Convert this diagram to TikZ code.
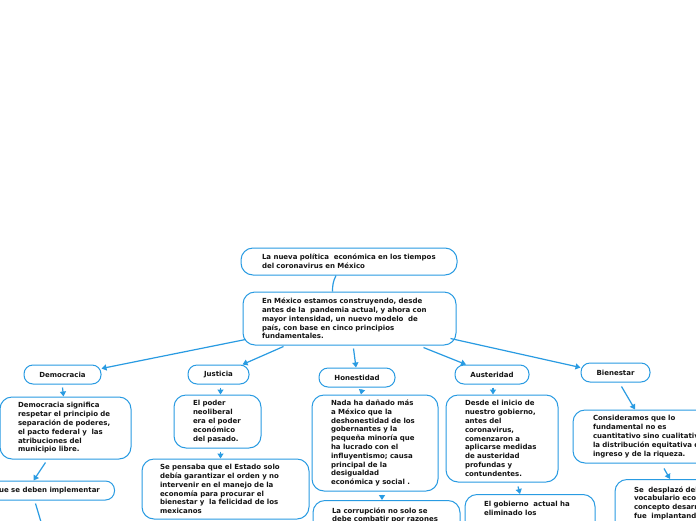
\documentclass[tikz,border=0pt]{standalone}
\usepackage{fontspec}
\setmainfont{DejaVu Sans}
\usetikzlibrary{calc,arrows.meta}
\definecolor{cline}{RGB}{41,155,226}
\definecolor{ctext}{RGB}{20,20,20}
\tikzset{
  box/.style={draw=cline, line width=1pt, fill=white, rounded corners=12pt,
    font=\fontsize{7}{8.8}\selectfont\bfseries, text=ctext, align=left, inner ysep=0pt},
  cbox/.style={box, anchor=north, inner ysep=7pt},
  lab/.style={draw=cline, line width=1pt, fill=white, rounded corners=9pt,
    font=\fontsize{7}{8.8}\selectfont\bfseries, text=ctext, inner sep=0pt, minimum height=19pt},
  conn/.style={draw=cline, line width=1.2pt, -{Triangle[width=6pt,length=5pt]}},
  plain/.style={draw=cline, line width=1.2pt},
}
\newcommand{\tl}[1]{\mbox{#1}}
\begin{document}
\begin{tikzpicture}[x=1pt,y=-1pt]
\useasboundingbox (0,0) rectangle (696,520);
\fill[white] (0,0) rectangle (696,520);
\clip (0,0) rectangle (696,520);

% top
\node[box, text width=174pt, inner xsep=21pt, minimum height=27pt] (title) at (349,261.5)
  {\tl{La nueva política\ \ económica en los tiempos}\\\tl{del coronavirus en México}};
\node[box, text width=175pt, inner xsep=19pt, minimum height=53pt] (root) at (349.5,318.5)
  {\tl{En México estamos construyendo, desde}\\\tl{antes de la\ \ pandemia actual, y ahora con}\\\tl{mayor intensidad, un nuevo modelo\ \ de}\\\tl{país, con base en cinco principios}\\\tl{fundamentales.}};

% labels
\node[lab, minimum width=77pt] (democ) at (62.5,374.5) {Democracia};
\node[lab, minimum width=61pt] (justicia) at (218.5,374.5) {Justicia};
\node[lab, minimum width=76pt] (honestidad) at (357,377.5) {Honestidad};
\node[lab, minimum width=74pt] (austeridad) at (492,374.5) {Austeridad};
\node[lab, minimum width=69pt] (bienestar) at (615.5,372.5) {Bienestar};

% Democracia branch
\node[box, text width=95pt, inner xsep=18pt, minimum height=62pt] (democtext) at (65.5,428)
  {\tl{Democracia significa}\\\tl{respetar el principio de}\\\tl{separación de poderes,}\\\tl{el pacto federal y\ \ las}\\\tl{atribuciones del}\\\tl{municipio libre.}};
\node[lab, minimum width=135pt] (implement) at (47,490.5) {\tl{que se deben implementar}};
\coordinate (impdown) at (44,532);

% Justicia branch
\node[box, text width=49pt, inner xsep=19pt, minimum height=53pt] (neoliberal) at (217.5,421.5)
  {\tl{El poder}\\\tl{neoliberal}\\\tl{era el poder}\\\tl{económico}\\\tl{del pasado.}};
\node[box, text width=131pt, inner xsep=18pt, minimum height=60pt] (pensaba) at (225.5,489)
  {\tl{Se pensaba que el Estado solo}\\\tl{debía garantizar el orden y no}\\\tl{intervenir en el manejo de la}\\\tl{economía para procurar el}\\\tl{bienestar y\ \ la felicidad de los}\\\tl{mexicanos}};

% Honestidad branch
\node[box, text width=88pt, inner xsep=19pt, minimum height=96pt] (nada) at (375,443)
  {\tl{Nada ha dañado más}\\\tl{a México que la}\\\tl{deshonestidad de los}\\\tl{gobernantes y la}\\\tl{pequeña minoría que}\\\tl{ha lucrado con el}\\\tl{influyentismo; causa}\\\tl{principal de la}\\\tl{desigualdad}\\\tl{económica y social .}};
\node[cbox, text width=109pt, inner xsep=19pt] (corrupcion) at (386.5,500)
  {\tl{La corrupción no solo se}\\\tl{debe combatir por razones}\\\mbox{}\\\mbox{}};

% Austeridad branch
\node[box, text width=74pt, inner xsep=19pt, minimum height=87pt] (desde) at (502,438.5)
  {\tl{Desde el inicio de}\\\tl{nuestro gobierno,}\\\tl{antes del}\\\tl{coronavirus,}\\\tl{comenzaron a}\\\tl{aplicarse medidas}\\\tl{de austeridad}\\\tl{profundas y}\\\tl{contundentes.}};
\node[cbox, text width=92pt, inner xsep=19pt] (gobierno) at (530,494)
  {\tl{El gobierno\ \ actual ha}\\\tl{eliminado los}\\\mbox{}\\\mbox{}};

% Bienestar branch
\node[box, text width=110pt, inner xsep=20pt, minimum height=53pt] (consideramos) at (648,436.5)
  {\tl{Consideramos que lo}\\\tl{fundamental no es}\\\tl{cuantitativo sino cualitativo}\\\tl{la distribución equitativa del}\\\tl{ingreso y de la riqueza.}};
\node[cbox, text width=112pt, inner xsep=19pt] (desplazo) at (690,479)
  {\tl{Se\ \ desplazó del}\\\tl{vocabulario económico}\\\tl{concepto desarrollo}\\\tl{fue\ \ implantando}\\\mbox{}};

% connectors
\draw[plain] ($(title.south)+(-13,0)$) .. controls +(-3,6) and +(0,-6) .. ($(root.north)+(-17,0)$);
\draw[conn] ($(root.south west)+(3,-6)$) -- ($(democ.east)+(0,-6)$);
\draw[conn] ($(root.south)+(-66,1)$) -- ($(justicia.north)+(24,0)$);
\draw[conn] ($(root.south)+(4,3)$) -- ($(honestidad.north)+(-1,0)$);
\draw[conn] ($(root.south)+(74,2)$) -- ($(austeridad.north)+(-26,0)$);
\draw[conn] ($(root.south east)+(-6,-7)$) -- ($(bienestar.west)+(0,-5)$);

\draw[conn] ($(democ.south)+(0,3)$) -- ($(democtext.north)+(-2,0)$);
\draw[conn] ($(democtext.south)+(-20,3)$) -- ($(implement.north)+(-13.5,0)$);
\draw[conn] ($(implement.south)+(-11.5,3)$) -- (impdown);

\draw[conn] ($(justicia.south)+(2,3)$) -- ($(neoliberal.north)+(3,0)$);
\draw[conn] ($(neoliberal.south)+(3,3)$) -- ($(pensaba.north)+(-5,0)$);

\draw[conn] ($(honestidad.south)+(5,2)$) -- ($(nada.north)+(-14,0)$);
\draw[conn] ($(nada.south)+(7,3)$) -- ($(corrupcion.north)+(-4.5,0)$);

\draw[conn] ($(austeridad.south)+(1,3)$) -- ($(desde.north)+(-9,0)$);
\draw[conn] ($(desde.south)+(16,4)$) -- ($(gobierno.north)+(-10,0)$);

\draw[conn] ($(bienestar.south)+(6,4)$) -- ($(consideramos.north)+(-13,0)$);
\draw[conn] ($(consideramos.south)+(16,5)$) -- ($(desplazo.north)+(-20,0)$);
\end{tikzpicture}
\end{document}
